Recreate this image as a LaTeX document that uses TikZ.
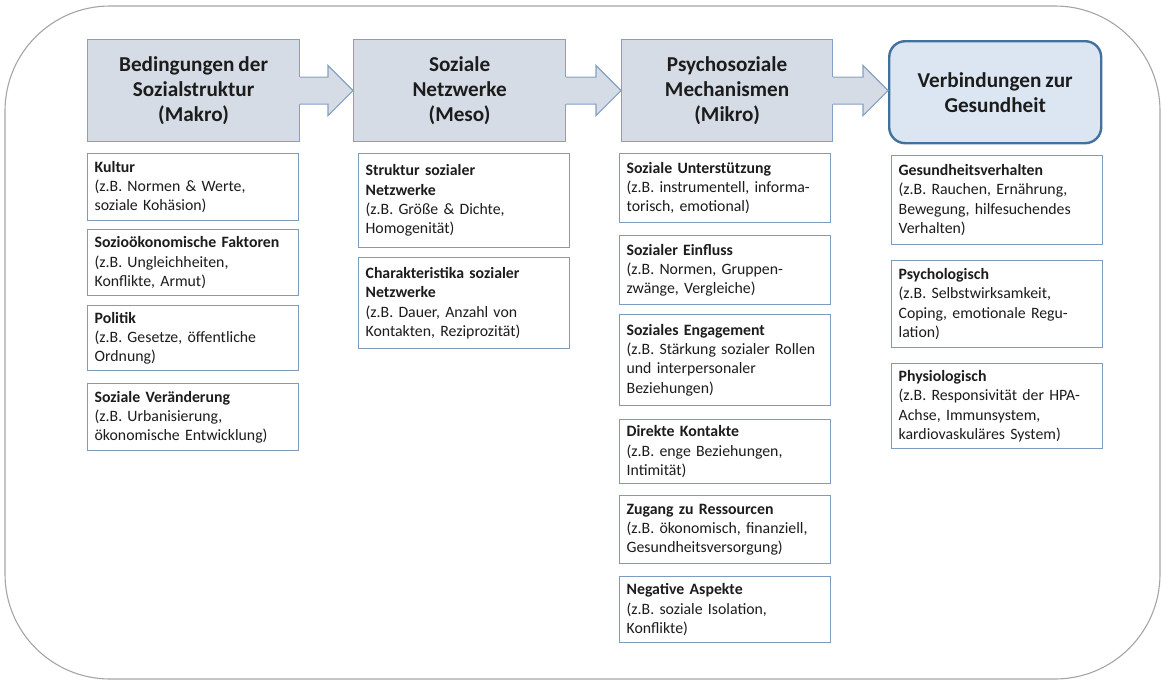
\documentclass[tikz,border=0pt]{standalone}
\usepackage{fontspec}
\setmainfont[WordSpace=0.85]{Carlito}
\usetikzlibrary{calc}
\definecolor{hfill}{RGB}{214,220,229}
\definecolor{hborder}{RGB}{132,160,194}
\definecolor{gfill}{RGB}{220,230,242}
\definecolor{gborder}{RGB}{65,113,156}
\definecolor{sborder}{RGB}{125,155,190}
\definecolor{framecol}{RGB}{165,165,165}
\definecolor{txt}{RGB}{28,28,28}
\tikzset{
  hbox/.style={draw=hborder, fill=hfill, line width=1.2pt, anchor=north west, align=center, inner sep=0pt, font=\fontsize{21.2}{25}\selectfont\bfseries, text=txt},
  gbox/.style={hbox, draw=gborder, fill=gfill, line width=2.4pt, rounded corners=16pt},
  sbox/.style={draw=sborder, fill=white, line width=1.3pt, anchor=north west, align=left, inner xsep=7pt, inner ysep=0pt, minimum width=211pt, text width=197pt, font=\fontsize{15.8}{19.3}\selectfont, text=txt},
  frameline/.style={draw=framecol, line width=1.1pt, rounded corners=105pt},
  arrowfill/.style={fill=hfill},
  arrowline/.style={draw=hborder, line width=1.2pt, line join=miter},
}
\newcommand{\blockarrow}[2]{%
  \fill[arrowfill] let \p1=(#1.east), \p2=(#2.west) in
    (\x1-2pt,\y1+13.5pt) -- (\x2-25pt,\y1+13.5pt) -- (\x2-25pt,\y1+25pt) -- (\x2,\y1)
    -- (\x2-25pt,\y1-25pt) -- (\x2-25pt,\y1-13.5pt) -- (\x1-2pt,\y1-13.5pt) -- cycle;
  \draw[arrowline] let \p1=(#1.east), \p2=(#2.west) in
    (\x1,\y1+13.5pt) -- (\x2-25pt,\y1+13.5pt) -- (\x2-25pt,\y1+25pt) -- (\x2,\y1)
    -- (\x2-25pt,\y1-25pt) -- (\x2-25pt,\y1-13.5pt) -- (\x1,\y1-13.5pt);
}
\begin{document}
\begin{tikzpicture}[x=1pt,y=-1pt]
\useasboundingbox (0,0) rectangle (1162,680);
\draw[frameline] (5,6) rectangle (1160,679);

% header boxes
\node[hbox, minimum width=212pt, minimum height=102pt] (h1) at (87,39) {Bedingungen der\\Sozialstruktur\\(Makro)};
\node[hbox, minimum width=212pt, minimum height=102pt] (h2) at (353,39) {Soziale\\Netzwerke\\(Meso)};
\node[hbox, minimum width=211pt, minimum height=102pt] (h3) at (621,39) {Psychosoziale\\Mechanismen\\(Mikro)};
\node[gbox, minimum width=212pt, minimum height=102pt] (h4) at (888,40) {Verbindungen zur\\Gesundheit};

\blockarrow{h1}{h2}
\blockarrow{h2}{h3}
\blockarrow{h3}{h4}

% column 1
\node[sbox, minimum height=67pt] (k1) at (87,153) {\textbf{Kultur}\\(z.B. Normen \& Werte,\\soziale Kohäsion)};
\node[sbox, minimum height=66pt] (k2) at (87,229) {\textbf{Sozioökonomische Faktoren}\\(z.B. Ungleichheiten,\\Konflikte, Armut)};
\node[sbox, minimum height=65pt] (k3) at (87,305) {\textbf{Politik}\\(z.B. Gesetze, öffentliche\\Ordnung)};
\node[sbox, minimum height=67pt] (k4) at (87,383) {\textbf{Soziale Veränderung}\\(z.B. Urbanisierung,\\ökonomische Entwicklung)};

% column 2
\node[sbox, minimum height=94pt] (n1) at (358,153) {\textbf{Struktur sozialer}\\\textbf{Netzwerke}\\(z.B. Größe \& Dichte,\\Homogenität)};
\node[sbox, minimum height=91pt] (n2) at (358,257) {\textbf{Charakteristika sozialer}\\\textbf{Netzwerke}\\(z.B. Dauer, Anzahl von\\Kontakten, Reziprozität)};

% column 3
\node[sbox, minimum height=69pt] (m1) at (619,153) {\textbf{Soziale Unterstützung}\\(z.B. instrumentell, informa-\\torisch, emotional)};
\node[sbox, minimum height=69pt] (m2) at (619,235) {\textbf{Sozialer Einfluss}\\(z.B. Normen, Gruppen-\\zwänge, Vergleiche)};
\node[sbox, minimum height=91pt] (m3) at (619,314) {\textbf{Soziales Engagement}\\(z.B. Stärkung sozialer Rollen\\und interpersonaler\\Beziehungen)};
\node[sbox, minimum height=64pt] (m4) at (619,419) {\textbf{Direkte Kontakte}\\(z.B. enge Beziehungen,\\Intimität)};
\node[sbox, minimum height=68pt] (m5) at (619,495) {\textbf{Zugang zu Ressourcen}\\(z.B. ökonomisch, finanziell,\\Gesundheitsversorgung)};
\node[sbox, minimum height=66pt] (m6) at (619,576) {\textbf{Negative Aspekte}\\(z.B. soziale Isolation,\\Konflikte)};

% column 4
\node[sbox, minimum height=89pt] (g1) at (891,155) {\textbf{Gesundheitsverhalten}\\(z.B. Rauchen, Ernährung,\\Bewegung, hilfesuchendes\\Verhalten)};
\node[sbox, minimum height=87pt] (g2) at (891,260) {\textbf{Psychologisch}\\(z.B. Selbstwirksamkeit,\\Coping, emotionale Regu-\\lation)};
\node[sbox, minimum height=85pt] (g3) at (891,363) {\textbf{Physiologisch}\\(z.B. Responsivität der HPA-\\Achse, Immunsystem,\\kardiovaskuläres System)};
\end{tikzpicture}
\end{document}
